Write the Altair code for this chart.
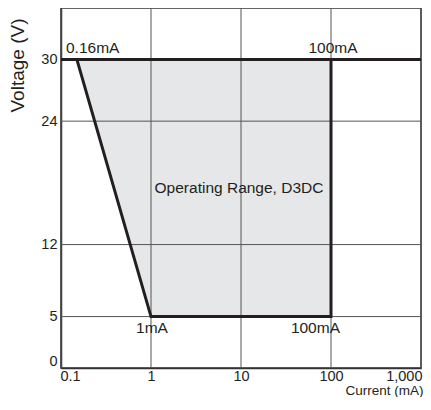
import altair as alt
import pandas as pd

# Axis tick values
current_ticks = [0.1, 1, 10, 100, 1000]
voltage_ticks = [0, 5, 12, 24, 30]
grid_voltage = [5, 12, 24, 30]

# Operating region (shaded): for each voltage, left and right current limits
region_voltage = [5, 30]
region_left_current = [1, 0.15]
region_right_current = [100, 100]

# Boundary of the operating region (thick outline)
boundary_current = [0.15, 1, 100, 100]
boundary_voltage = [30, 5, 5, 30]

# Maximum voltage line across the whole chart
max_line_current = [0.1, 1000]
max_line_voltage = [30, 30]

# Annotations
ann_labels = ["0.16mA", "100mA", "1mA", "100mA", "Operating Range, D3DC"]
ann_current = [0.1, 100, 1, 100, 10]
ann_voltage = [30, 30, 5, 5, 17.5]

FONT = "Liberation Sans"
INK = "#231f20"

xscale = alt.Scale(type="log", domain=[0.1, 1000], nice=False)
yscale = alt.Scale(domain=[0, 35], nice=False, zero=False)

xaxis = alt.Axis(values=current_ticks, format=",~g", grid=False, ticks=False,
                 labelFlush=True, labelFlushOffset=1, labelPadding=1,
                 title="Current (mA)", titleX=362, titleY=26, titleAlign="right",
                 titleBaseline="alphabetic", titleFontSize=13.5)
yaxis = alt.Axis(values=voltage_ticks, grid=False, ticks=False,
                 labelFlush=True, labelPadding=4,
                 title="Voltage (V)", titleX=-38, titleY=57, titleAngle=270,
                 titleAlign="center", titleBaseline="alphabetic", titleFontSize=19)

region = pd.DataFrame({"v": region_voltage, "xl": region_left_current, "xr": region_right_current})
area = alt.Chart(region).mark_area(color="#e6e7e8", orient="horizontal").encode(
    y=alt.Y("v:Q", scale=yscale, axis=yaxis),
    x=alt.X("xl:Q", scale=xscale, axis=xaxis),
    x2="xr:Q",
)

vgrid = alt.Chart(pd.DataFrame({"c": current_ticks})).mark_rule(color="#555555", strokeWidth=1).encode(
    x=alt.X("c:Q", scale=xscale)
)
hgrid = alt.Chart(pd.DataFrame({"v": grid_voltage})).mark_rule(color="#555555", strokeWidth=1).encode(
    y=alt.Y("v:Q", scale=yscale)
)

lines_df = pd.concat([
    pd.DataFrame({"c": boundary_current, "v": boundary_voltage, "seg": "boundary",
                  "i": list(range(len(boundary_current)))}),
    pd.DataFrame({"c": max_line_current, "v": max_line_voltage, "seg": "max",
                  "i": list(range(len(max_line_current)))}),
])
lines = alt.Chart(lines_df).mark_line(color=INK, strokeWidth=3, strokeJoin="miter").encode(
    x=alt.X("c:Q", scale=xscale),
    y=alt.Y("v:Q", scale=yscale),
    detail="seg:N",
    order="i:Q",
)

ann = pd.DataFrame({"t": ann_labels, "c": ann_current, "v": ann_voltage})

def text_layer(idx, **kw):
    return alt.Chart(ann.iloc[[idx]]).mark_text(font=FONT, fontSize=15.5, color=INK, **kw).encode(
        x=alt.X("c:Q", scale=xscale), y=alt.Y("v:Q", scale=yscale), text="t:N"
    )

t0 = text_layer(0, align="left", baseline="alphabetic", dx=5, dy=-6)
t1 = text_layer(1, align="center", baseline="alphabetic", dx=2, dy=-6)
t2 = text_layer(2, align="center", baseline="top", dx=1, dy=4)
t3 = text_layer(3, align="right", baseline="top", dx=9, dy=4)
t4 = text_layer(4, align="center", baseline="middle", dx=-2, dy=0)

chart = alt.layer(area, vgrid, hgrid, lines, t0, t1, t2, t3, t4).properties(
    width=360, height=360,
    autosize=alt.AutoSizeParams(type="none"),
    padding={"left": 53, "top": 0, "right": 2, "bottom": 29},
).configure_view(
    stroke="#333333", strokeWidth=1.5
).configure_axis(
    domainColor="#333333", domainWidth=1.5,
    labelFont=FONT, labelFontSize=14.5, labelColor=INK,
    titleFont=FONT, titleFontSize=14.5, titleFontWeight="normal", titleColor=INK,
)

chart.save("out.html", embed_options={"renderer": "svg", "actions": False})
